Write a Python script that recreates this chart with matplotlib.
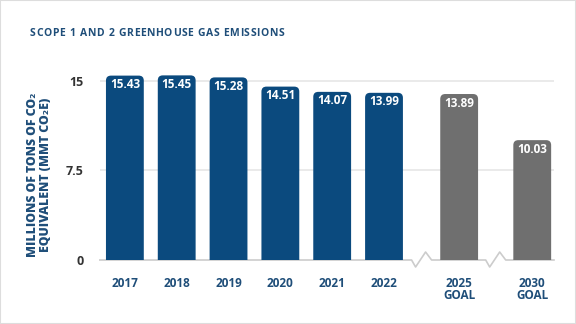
import matplotlib
matplotlib.use('Agg')
import matplotlib.pyplot as plt
from matplotlib.patches import FancyBboxPatch, Rectangle

plt.rcParams['font.family'] = ['Open Sans', 'DejaVu Sans']

title = 'SCOPE 1 AND 2 GREENHOUSE GAS EMISSIONS'
labels = ['2017', '2018', '2019', '2020', '2021', '2022', '2025\nGOAL', '2030\nGOAL']
values = [15.43, 15.45, 15.28, 14.51, 14.07, 13.99, 13.89, 10.03]
positions = [0, 1, 2, 3, 4, 5, 6.45, 7.86]
is_goal = [False] * 6 + [True] * 2

blue = '#0b4a7e'
grey = '#6f6f6f'
title_blue = '#1f4e79'

# pixels per data unit, used for rounding / zigzag shapes
px_x = 51.8
px_y = 11.95
ytop = 16.5

fig = plt.figure(figsize=(5.76, 3.24), dpi=100)
fig.patches.append(Rectangle((0, 0), 1, 1, transform=fig.transFigure,
                             fill=False, edgecolor='#dddddd', lw=1.5))

ax = fig.add_axes([100 / 576, 64 / 324, 454 / 576, ytop * px_y / 324])
ax.set_xlim(-0.48, 8.28)
ax.set_ylim(0, ytop)

for y in [7.5, 15]:
    ax.axhline(y, color='#e6e6e6', lw=1.2, zorder=0)

width = 0.73
for x, v, g in zip(positions, values, is_goal):
    c = grey if g else blue
    r = 5 / px_x
    box = FancyBboxPatch((x - width / 2, -2), width, v + 2,
                         boxstyle=f"round,pad=0,rounding_size={r}",
                         mutation_aspect=px_x / px_y,
                         facecolor=c, edgecolor='none', zorder=2)
    ax.add_patch(box)
    ax.text(x, v - 9 / px_y, f"{v:.2f}", color='white', ha='center', va='center',
            fontsize=8.5, fontweight='bold', zorder=3)

# baseline with break marks between 2022 / goals
xs = [positions[0] - 25 / px_x]
ys = [0]
for bx in [(positions[5] + positions[6]) / 2, (positions[6] + positions[7]) / 2]:
    for dx, dy in [(-10, 0), (-6, -7), (4, 8), (10, 0)]:
        xs.append(bx + dx / px_x)
        ys.append(dy / px_y)
xs.append(8.28)
ys.append(0)
ax.plot(xs, ys, color='#cccccc', lw=1.2, clip_on=False, zorder=1)

ax.set_yticks([0, 7.5, 15])
ax.set_yticklabels(['0', '7.5', '15'], fontsize=9, fontweight='bold', color='#333333')
ax.set_xticks(positions)
ax.set_xticklabels(labels, fontsize=8.5, fontweight='bold', color=title_blue, linespacing=0.95, va='top')
ax.tick_params(length=0)
ax.tick_params(axis='y', pad=12)
ax.tick_params(axis='x', pad=12)
for s in ax.spines.values():
    s.set_visible(False)

ax.set_ylabel('MILLIONS OF TONS OF CO\u2082\nEQUIVALENT (MMT CO\u2082E)', fontsize=8.8,
              fontweight='heavy', color=title_blue, linespacing=1.2)
ax.yaxis.set_label_coords(-0.105, 0.43)

# title with letter spacing, one character at a time
renderer = fig.canvas.get_renderer()
x0 = 30
spacing = 0.6
for ch in title:
    t = fig.text(x0 / 576, 1 - 33 / 324, ch, fontsize=7.5, fontweight='bold',
                 color=title_blue, va='center', ha='left')
    w = t.get_window_extent(renderer).width if ch != ' ' else 3.0
    x0 += w + spacing

fig.savefig('out.png', dpi=100)
